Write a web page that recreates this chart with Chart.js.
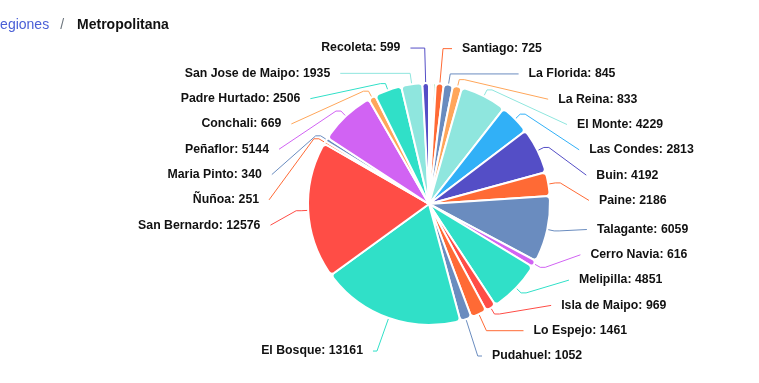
<!DOCTYPE html>
<html lang="es">
<head>
    <meta charset="UTF-8">
    <meta name="viewport" content="width=device-width, initial-scale=1.0">
    <title>Regiones / Metropolitana</title>
    <script src="https://cdn.jsdelivr.net/npm/chart.js"></script>
    <style>
        body { margin: 0; background: #fff; font-family: Arial, "Liberation Sans", sans-serif; overflow: hidden; }
        .crumb { position: absolute; top: 16px; left: -10px; font-size: 14px; line-height: 16px; white-space: nowrap; z-index: 2; }
        .crumb a { color: #4a5fd6; text-decoration: none; }
        .crumb .sep { color: #6c757d; padding: 0 13px 0 11px; }
        .crumb b { color: #111; }
        #chart { position: absolute; left: 0; top: 0; }
    </style>
</head>
<body>
    <div class="crumb"><a href="#">Regiones</a><span class="sep">/</span><b>Metropolitana</b></div>
    <canvas id="chart" width="759" height="383"></canvas>

    <script>
        // comunas, clockwise from 12 o'clock (the first three slivers have no visible label)
        const comunas = ['', '', '', 'Santiago', 'La Florida', 'La Reina', 'El Monte', 'Las Condes', 'Buin',
            'Paine', 'Talagante', 'Cerro Navia', 'Melipilla', 'Isla de Maipo', 'Lo Espejo', 'Pudahuel',
            'El Bosque', 'San Bernardo', 'Ñuñoa', 'Maria Pinto', 'Peñaflor', 'Conchali', 'Padre Hurtado',
            'San Jose de Maipo', 'Recoleta'];
        const valores = [210, 190, 220, 725, 845, 833, 4229, 2813, 4192,
            2186, 6059, 616, 4851, 969, 1461, 1052,
            13161, 12576, 251, 340, 5144, 669, 2506,
            1935, 599];
        const colores = ['#8FE6DE', '#2BB673', '#5CD67E', '#FF6A35', '#6A8CBF', '#FFA65A', '#8FE6DE', '#31B0F7', '#544EC6',
            '#FF6A35', '#6A8CBF', '#D163F3', '#30E0C8', '#FF4D46', '#FF6A35', '#6A8CBF',
            '#30E0C8', '#FF4D46', '#FF6A35', '#6A8CBF', '#D163F3', '#FFA65A', '#30E0C8',
            '#8FE6DE', '#544EC6'];

        // draws "name: value" outside the pie with connector lines
        const outLabels = {
            id: 'outLabels',
            afterDatasetsDraw(chart) {
                const ctx = chart.ctx;
                const arcs = chart.getDatasetMeta(0).data;
                const gap = 25.3, top = 48, bottom = 356;
                const sides = { left: [], right: [] };

                arcs.forEach((arc, i) => {
                    if (!comunas[i]) return;
                    const p = arc.getProps(['x', 'y', 'startAngle', 'endAngle', 'outerRadius'], true);
                    const mid = (p.startAngle + p.endAngle) / 2;
                    const item = { i, p, mid, y: p.y + Math.sin(mid) * (p.outerRadius + 35) };
                    (Math.cos(mid) >= 0 ? sides.right : sides.left).push(item);
                });

                ctx.save();
                ctx.font = 'bold 12.3px "Liberation Sans", Arial, sans-serif';
                ctx.textBaseline = 'middle';
                ctx.lineWidth = 1;

                ['left', 'right'].forEach(side => {
                    const list = sides[side].sort((a, b) => a.y - b.y);
                    for (let k = 0; k < list.length; k++) {
                        const prev = k > 0 ? list[k - 1].y + gap : top;
                        list[k].y = Math.max(list[k].y, prev);
                    }
                    for (let k = list.length - 1; k >= 0; k--) {
                        const next = k < list.length - 1 ? list[k + 1].y - gap : bottom;
                        list[k].y = Math.min(list[k].y, next);
                    }
                    const dir = side === 'right' ? 1 : -1;
                    list.forEach(it => {
                        const { p, mid, i } = it;
                        const dy = it.y - p.y;
                        let off = 160 * Math.sqrt(Math.max(0, 1 - (dy / 157) * (dy / 157)));
                        if (dy > 0) off = Math.max(off, 53);
                        const ex = p.x + dir * off;
                        const s = Math.sin(mid), c = Math.cos(mid);
                        const x0 = p.x + c * (p.outerRadius + 1);
                        const y0 = p.y + s * (p.outerRadius + 1);
                        ctx.strokeStyle = colores[i];
                        ctx.beginPath();
                        ctx.moveTo(x0, y0);
                        const need = (it.y - y0) / s;
                        if (need > 0 && Math.abs(s) > 0.7) {
                            // radial stub runs straight to the label's height
                            const len = Math.min(Math.max(need, 5), 40);
                            ctx.lineTo(x0 + c * len, y0 + s * len);
                        } else {
                            const x1 = x0 + c * 6, y1 = y0 + s * 6;
                            ctx.lineTo(x1, y1);
                            ctx.lineTo(x1 + dir * 5, y1);
                        }
                        ctx.lineTo(ex, it.y);
                        ctx.stroke();

                        ctx.fillStyle = '#111';
                        ctx.textAlign = side === 'right' ? 'left' : 'right';
                        ctx.fillText(comunas[i] + ': ' + valores[i], ex + dir * 10, it.y);
                    });
                });
                ctx.restore();
            }
        };

        const chart = new Chart(document.getElementById('chart').getContext('2d'), {
            type: 'pie',
            data: {
                labels: comunas,
                datasets: [{
                    data: valores,
                    backgroundColor: colores,
                    borderColor: '#ffffff',
                    borderWidth: 2,
                    borderRadius: 4
                }]
            },
            options: {
                responsive: false,
                animation: false,
                devicePixelRatio: 1,
                layout: { padding: { left: 307, right: 208, top: 82, bottom: 57 } },
                plugins: {
                    legend: { display: false },
                    tooltip: { enabled: false }
                }
            },
            plugins: [outLabels]
        });
    </script>
</body>
</html>
